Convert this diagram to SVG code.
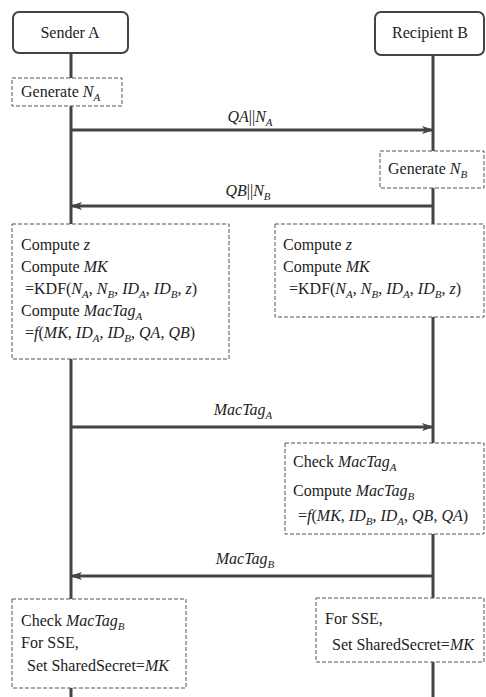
<svg xmlns="http://www.w3.org/2000/svg" width="486" height="697" viewBox="0 0 486 697" font-family="Liberation Serif, Times New Roman, serif">
<defs>
<style>
text{font-size:16px;fill:#222}
.i{font-style:italic}
.s{font-size:11px}
.hdr{fill:#fff;stroke:#444;stroke-width:2}
.box{fill:#fff;stroke:#555;stroke-width:1;stroke-dasharray:4 2}
.life{stroke:#444;stroke-width:3;fill:none}
.msg{stroke:#444;stroke-width:3;fill:none;marker-end:url(#ah)}
</style>
<marker id="ah" viewBox="0 0 12 8" refX="11" refY="4" markerWidth="12" markerHeight="8" markerUnits="userSpaceOnUse" orient="auto">
<path d="M0,0 L12,4 L0,8 L3,4 z" fill="#444"/>
</marker>
</defs>

<g id="lifelines">
<line class="life" x1="71" y1="53" x2="71" y2="78"/>
<line class="life" x1="71" y1="106" x2="71" y2="224"/>
<line class="life" x1="71" y1="359" x2="71" y2="599"/>
<line class="life" x1="71" y1="688" x2="71" y2="697"/>
<line class="life" x1="433" y1="55" x2="433" y2="151"/>
<line class="life" x1="433" y1="188" x2="433" y2="224"/>
<line class="life" x1="433" y1="317" x2="433" y2="443"/>
<line class="life" x1="433" y1="534" x2="433" y2="598"/>
<line class="life" x1="433" y1="662" x2="433" y2="697"/>
</g>

<g id="connectors">
<line class="msg" x1="71" y1="130" x2="433" y2="130"/>
<text x="250" y="122" text-anchor="middle"><tspan class="i">QA</tspan>||<tspan class="i">N</tspan><tspan class="i s" dy="4">A</tspan></text>
<line class="msg" x1="433" y1="206" x2="71" y2="206"/>
<text x="248" y="196" text-anchor="middle"><tspan class="i">QB</tspan>||<tspan class="i">N</tspan><tspan class="i s" dy="4">B</tspan></text>
<line class="msg" x1="71" y1="427" x2="433" y2="427"/>
<text x="243" y="415" text-anchor="middle"><tspan class="i">MacTag</tspan><tspan class="i s" dy="4">A</tspan></text>
<line class="msg" x1="433" y1="576" x2="71" y2="576"/>
<text x="245" y="564" text-anchor="middle"><tspan class="i">MacTag</tspan><tspan class="i s" dy="4">B</tspan></text>
</g>

<g id="senderA">
<rect class="hdr" x="13" y="12" width="115" height="41" rx="6"/>
<text x="70" y="38" text-anchor="middle">Sender A</text>
</g>

<g id="recipientB">
<rect class="hdr" x="375" y="12" width="109" height="43" rx="6"/>
<text x="430" y="38" text-anchor="middle">Recipient B</text>
</g>

<g id="genNA">
<rect class="box" x="12" y="78" width="110" height="28"/>
<text x="21" y="97">Generate <tspan class="i">N</tspan><tspan class="i s" dy="4">A</tspan></text>
</g>

<g id="genNB">
<rect class="box" x="380" y="151" width="104" height="37"/>
<text x="388" y="174">Generate <tspan class="i">N</tspan><tspan class="i s" dy="4">B</tspan></text>
</g>

<g id="computeA">
<rect class="box" x="12" y="224" width="217" height="135"/>
<text x="21" y="250">Compute <tspan class="i">z</tspan></text>
<text x="21" y="272">Compute <tspan class="i">MK</tspan></text>
<text x="25" y="294">=KDF(<tspan class="i">N</tspan><tspan class="i s" dy="4">A</tspan><tspan dy="-4">, </tspan><tspan class="i">N</tspan><tspan class="i s" dy="4">B</tspan><tspan dy="-4">, </tspan><tspan class="i">ID</tspan><tspan class="i s" dy="4">A</tspan><tspan dy="-4">, </tspan><tspan class="i">ID</tspan><tspan class="i s" dy="4">B</tspan><tspan dy="-4">, </tspan><tspan class="i">z</tspan>)</text>
<text x="21" y="316">Compute <tspan class="i">MacTag</tspan><tspan class="i s" dy="4">A</tspan></text>
<text x="25" y="338">=<tspan class="i">f</tspan>(<tspan class="i">MK</tspan>, <tspan class="i">ID</tspan><tspan class="i s" dy="4">A</tspan><tspan dy="-4">, </tspan><tspan class="i">ID</tspan><tspan class="i s" dy="4">B</tspan><tspan dy="-4">, </tspan><tspan class="i">QA</tspan>, <tspan class="i">QB</tspan>)</text>
</g>

<g id="computeB">
<rect class="box" x="275" y="224" width="209" height="93"/>
<text x="283" y="250">Compute <tspan class="i">z</tspan></text>
<text x="283" y="272">Compute <tspan class="i">MK</tspan></text>
<text x="289" y="294">=KDF(<tspan class="i">N</tspan><tspan class="i s" dy="4">A</tspan><tspan dy="-4">, </tspan><tspan class="i">N</tspan><tspan class="i s" dy="4">B</tspan><tspan dy="-4">, </tspan><tspan class="i">ID</tspan><tspan class="i s" dy="4">A</tspan><tspan dy="-4">, </tspan><tspan class="i">ID</tspan><tspan class="i s" dy="4">B</tspan><tspan dy="-4">, </tspan><tspan class="i">z</tspan>)</text>
</g>

<g id="checkA">
<rect class="box" x="285" y="443" width="199" height="91"/>
<text x="293" y="467">Check <tspan class="i">MacTag</tspan><tspan class="i s" dy="4">A</tspan></text>
<text x="293" y="496">Compute <tspan class="i">MacTag</tspan><tspan class="i s" dy="4">B</tspan></text>
<text x="298" y="521">=<tspan class="i">f</tspan>(<tspan class="i">MK</tspan>, <tspan class="i">ID</tspan><tspan class="i s" dy="4">B</tspan><tspan dy="-4">, </tspan><tspan class="i">ID</tspan><tspan class="i s" dy="4">A</tspan><tspan dy="-4">, </tspan><tspan class="i">QB</tspan>, <tspan class="i">QA</tspan>)</text>
</g>

<g id="checkB">
<rect class="box" x="12" y="599" width="174" height="89"/>
<text x="21" y="626">Check <tspan class="i">MacTag</tspan><tspan class="i s" dy="4">B</tspan></text>
<text x="21" y="648">For SSE,</text>
<text x="27" y="671">Set SharedSecret=<tspan class="i">MK</tspan></text>
</g>

<g id="sseB">
<rect class="box" x="316" y="598" width="168" height="64"/>
<text x="325" y="624">For SSE,</text>
<text x="332" y="650">Set SharedSecret=<tspan class="i">MK</tspan></text>
</g>
</svg>
